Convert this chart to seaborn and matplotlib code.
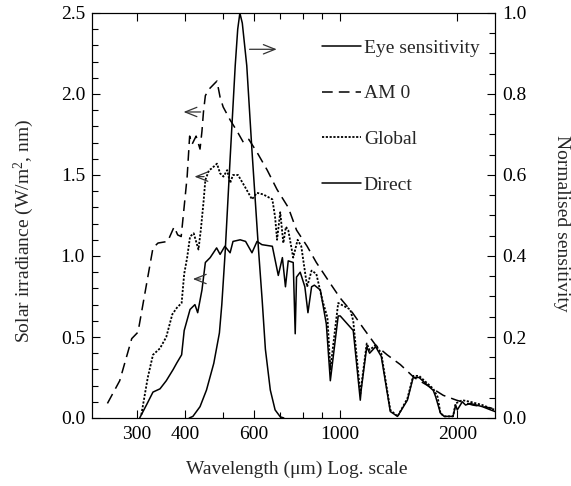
import numpy as np
import pandas as pd
import matplotlib
matplotlib.use("Agg")
import matplotlib.pyplot as plt
from matplotlib.ticker import FixedLocator, NullFormatter, MultipleLocator
import seaborn as sns

# ---------------- data ----------------
am0_wl = [252, 271, 291, 302, 330, 340, 360, 374, 382, 390, 396, 404, 410, 416,
          426, 436, 441, 445, 450, 460, 473, 482, 491, 500, 521, 543, 564, 582,
          611, 649, 688, 735, 772, 822, 868, 943, 1000, 1075, 1150, 1233, 1320,
          1427, 1548, 1706, 1840, 1990, 2190, 2460]
am0_val = [0.09, 0.23, 0.49, 0.53, 1.05, 1.08, 1.09, 1.18, 1.13, 1.12, 1.28, 1.49,
           1.74, 1.69, 1.74, 1.66, 1.77, 1.89, 1.99, 2.03, 2.06, 2.08, 1.98, 1.92,
           1.84, 1.77, 1.70, 1.72, 1.64, 1.53, 1.41, 1.30, 1.16, 1.06, 0.96, 0.83,
           0.74, 0.65, 0.55, 0.45, 0.39, 0.33, 0.25, 0.19, 0.14, 0.11, 0.08, 0.06]

glob_wl = [308, 320, 330, 344, 357, 370, 380, 391, 397, 404, 411, 420, 432, 438,
           445, 450, 460, 467, 482, 491, 501, 512, 521, 530, 546, 571, 593, 611,
           634, 669, 680, 688, 701, 714, 725, 735, 757, 777, 794, 822, 844, 868,
           899, 927, 943, 988, 1061, 1080, 1126, 1170, 1190, 1233, 1275, 1345,
           1404, 1488, 1540, 1595, 1735, 1780, 1810, 1850, 1950, 1980, 2060, 2160,
           2320, 2436, 2500]
glob_val = [0.02, 0.25, 0.39, 0.43, 0.50, 0.64, 0.68, 0.71, 0.89, 0.99, 1.12, 1.14,
            1.04, 1.16, 1.33, 1.47, 1.53, 1.54, 1.57, 1.51, 1.49, 1.53, 1.45, 1.50,
            1.50, 1.42, 1.35, 1.39, 1.38, 1.35, 1.24, 1.10, 1.27, 1.08, 1.18, 1.16,
            0.99, 1.10, 1.06, 0.81, 0.91, 0.89, 0.73, 0.62, 0.30, 0.71, 0.67, 0.60,
            0.15, 0.46, 0.42, 0.45, 0.40, 0.05, 0.01, 0.12, 0.26, 0.26, 0.18, 0.13,
            0.03, 0.01, 0.01, 0.09, 0.11, 0.10, 0.08, 0.06, 0.05]

dir_wl = [305, 319, 330, 344, 357, 372, 380, 391, 397, 411, 423, 430, 441, 450,
          463, 481, 491, 505, 521, 530, 553, 571, 593, 611, 629, 669, 693, 710,
          723, 735, 757, 766, 772, 789, 811, 826, 844, 858, 889, 921, 943, 988,
          1000, 1080, 1126, 1133, 1170, 1190, 1233, 1275, 1345, 1404, 1488, 1540,
          1595, 1735, 1760, 1810, 1850, 1950, 1980, 2000, 2060, 2100, 2160, 2320,
          2436, 2500]
dir_val = [0.0, 0.09, 0.16, 0.18, 0.23, 0.30, 0.34, 0.39, 0.54, 0.67, 0.70, 0.65,
           0.79, 0.96, 0.99, 1.05, 1.01, 1.06, 1.02, 1.09, 1.10, 1.09, 1.02, 1.09,
           1.07, 1.06, 0.88, 0.99, 0.81, 0.97, 0.96, 0.52, 0.87, 0.90, 0.81, 0.65,
           0.81, 0.82, 0.79, 0.58, 0.23, 0.63, 0.63, 0.54, 0.11, 0.18, 0.44, 0.40,
           0.44, 0.38, 0.04, 0.01, 0.11, 0.25, 0.25, 0.17, 0.13, 0.03, 0.01, 0.01,
           0.08, 0.05, 0.10, 0.08, 0.09, 0.07, 0.05, 0.04]

eye_wl = [409, 418, 436, 453, 473, 489, 496, 506, 521, 537, 545, 552, 560, 575,
          593, 617, 630, 642, 661, 680, 701, 716]
eye_val = [0.0, 0.004, 0.028, 0.069, 0.135, 0.21, 0.28, 0.41, 0.64, 0.87, 0.96,
           1.0, 0.975, 0.87, 0.66, 0.41, 0.29, 0.17, 0.069, 0.02, 0.003, 0.0]

x_major = [300, 400, 600, 1000, 2000]
x_major_labels = ["300", "400", "600", "1000", "2000"]
x_minor = [500, 700, 800, 900]

# ---------------- style ----------------
sns.set_theme(style="ticks")
plt.rcParams["font.family"] = ["Liberation Serif", "DejaVu Serif"]
plt.rcParams["mathtext.fontset"] = "custom"
plt.rcParams["mathtext.rm"] = "Liberation Serif"
plt.rcParams["mathtext.it"] = "Liberation Serif:italic"
plt.rcParams["axes.linewidth"] = 0.8
plt.rcParams["axes.edgecolor"] = "black"

FS = 14
fig = plt.figure(figsize=(5.71, 4.86), dpi=100)
ax = fig.add_axes([92 / 571, 1 - 418 / 486, 403 / 571, 405 / 486])
ax2 = ax.twinx()

df_am0 = pd.DataFrame({"wl": am0_wl, "val": am0_val})
df_glob = pd.DataFrame({"wl": glob_wl, "val": glob_val})
df_dir = pd.DataFrame({"wl": dir_wl, "val": dir_val})
df_eye = pd.DataFrame({"wl": eye_wl, "val": eye_val})

sns.lineplot(data=df_am0, x="wl", y="val", ax=ax, color="black", lw=1.1,
             estimator=None, sort=False, label="AM 0", legend=False)
sns.lineplot(data=df_glob, x="wl", y="val", ax=ax, color="black", lw=1.3,
             estimator=None, sort=False, label="Global", legend=False)
sns.lineplot(data=df_dir, x="wl", y="val", ax=ax, color="black", lw=1.1,
             estimator=None, sort=False, label="Direct", legend=False)
sns.lineplot(data=df_eye, x="wl", y="val", ax=ax2, color="black", lw=1.1,
             estimator=None, sort=False, label="Eye sensitivity", legend=False)

l_am0, l_glob, l_dir = ax.get_lines()[:3]
l_am0.set_linestyle((0, (7, 4)))
l_glob.set_linestyle((0, (1.2, 0.9)))
l_eye = ax2.get_lines()[0]

ax.set_xscale("log")
ax.set_xlim(230, 2500)
ax.set_ylim(0, 2.5)
ax2.set_ylim(0, 1.0)

ax.xaxis.set_major_locator(FixedLocator(x_major))
ax.set_xticklabels(x_major_labels)
ax.xaxis.set_minor_locator(FixedLocator(x_minor))
ax.xaxis.set_minor_formatter(NullFormatter())
ax.yaxis.set_major_locator(MultipleLocator(0.5))
ax.yaxis.set_minor_locator(MultipleLocator(0.1))
ax.yaxis.set_major_formatter(matplotlib.ticker.FormatStrFormatter("%.1f"))
ax2.yaxis.set_major_locator(MultipleLocator(0.2))
ax2.yaxis.set_minor_locator(MultipleLocator(0.05))
ax2.yaxis.set_major_formatter(matplotlib.ticker.FormatStrFormatter("%.1f"))

ax.tick_params(axis="x", which="both", direction="in", top=True, bottom=True,
               labelsize=FS, pad=6, colors="black")
ax.tick_params(axis="y", which="both", direction="in", left=True, right=False,
               labelsize=FS, pad=5, colors="black")
ax.tick_params(which="major", length=6, width=0.8)
ax.tick_params(which="minor", length=4, width=0.8)
ax2.tick_params(axis="y", which="both", direction="in", right=True, left=False,
                labelsize=FS, pad=5, colors="black")
ax2.tick_params(which="major", length=6, width=0.8)
ax2.tick_params(which="minor", length=4, width=0.8)
for a in (ax, ax2):
    for s in a.spines.values():
        s.set_visible(True)
        s.set_linewidth(0.8)
        s.set_color("black")

ax.set_xlabel("Wavelength (\u03bcm) Log. scale", fontsize=FS)
ax.xaxis.set_label_coords(0.507, -0.126)
ax.xaxis.label.set_verticalalignment("center")
ax.set_ylabel("Solar irradiance (W/m$^2$, nm)", fontsize=FS)
ax.yaxis.set_label_coords(-0.169, 0.462)
ax.yaxis.label.set_verticalalignment("center")
ax2.set_ylabel("Normalised sensitivity", fontsize=FS, rotation=270)
ax2.yaxis.set_label_coords(1.164, 0.481)
ax2.yaxis.label.set_verticalalignment("center")

# legend
fig.legend(handles=[l_eye, l_am0, l_glob, l_dir],
           labels=["Eye sensitivity", "AM 0", "Global", "Direct"],
           loc="upper left", bbox_to_anchor=(322 / 571, 1 - 39 / 486),
           bbox_transform=fig.transFigure, frameon=False, fontsize=FS,
           handlelength=2.0, handletextpad=0.15, labelspacing=1.45,
           borderpad=0, borderaxespad=0)

# arrows
arrow_kw = dict(arrowstyle="->,head_length=0.7,head_width=0.28", lw=0.9, color="#333333")
ax.annotate("", xy=(698, 2.276), xytext=(575, 2.276), arrowprops=arrow_kw)
ax.annotate("", xy=(389, 1.889), xytext=(445, 1.889), arrowprops=arrow_kw)
ax.annotate("", xy=(415, 1.49), xytext=(454, 1.49), arrowprops=arrow_kw)
ax.annotate("", xy=(411, 0.858), xytext=(445, 0.858), arrowprops=arrow_kw)

fig.savefig("out.png", dpi=100)
